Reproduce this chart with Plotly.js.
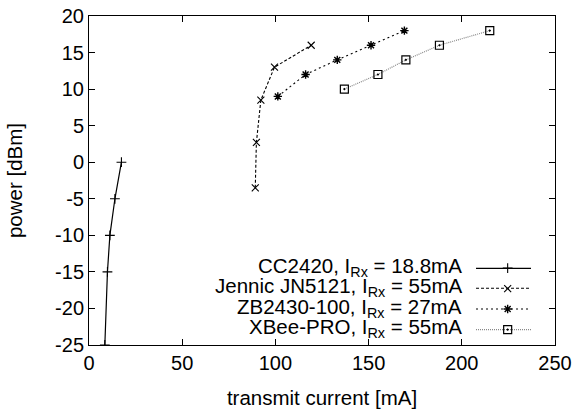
<!DOCTYPE html>
<html>
<head>
<meta charset="utf-8">
<script src="https://cdn.plot.ly/plotly-3.0.1.min.js"></script>
<style>html,body{margin:0;padding:0;background:#fff;}#chart{width:576px;height:412px;}</style>
</head>
<body>
<div id="chart"></div>
<script>
// CC2420
const cc2420Current = [8.5, 9.9, 11.2, 13.9, 17.4];
const cc2420Power   = [-25, -15, -10, -5, 0];
// Jennic JN5121
const jennicCurrent = [89.2, 89.8, 92.2, 99.5, 119.2];
const jennicPower   = [-3.5, 2.7, 8.5, 13, 16];
// ZB2430-100
const zbCurrent = [101.3, 116.2, 133.2, 151.3, 169.2];
const zbPower   = [9, 12, 14, 16, 18];
// XBee-PRO
const xbeeCurrent = [137, 155, 170, 188, 215];
const xbeePower   = [10, 12, 14, 16, 18];

const seriesLabels = [
  'CC2420, I<sub>Rx</sub> = 18.8mA',
  'Jennic JN5121, I<sub>Rx</sub> = 55mA',
  'ZB2430-100, I<sub>Rx</sub> = 27mA',
  'XBee-PRO, I<sub>Rx</sub> = 55mA'
];
const xTicks = [0, 50, 100, 150, 200, 250];
const yTicks = [-25, -20, -15, -10, -5, 0, 5, 10, 15, 20];

const FONT = 'Liberation Sans, Arial, Helvetica, sans-serif';

const series = [
  {x: cc2420Current, y: cc2420Power, line: {color: '#000', width: 1.2},
   marker: {symbol: 'cross-thin', size: 7, color: '#000', line: {color: '#000', width: 1.1}}},
  {x: jennicCurrent, y: jennicPower, line: {color: '#000', width: 1.1, dash: '3px,2px'},
   marker: {symbol: 'x-thin', size: 7, color: '#000', line: {color: '#000', width: 1.1}}},
  {x: zbCurrent, y: zbPower, line: {color: '#000', width: 1.1, dash: '2px,3px'},
   marker: {symbol: 'asterisk-open', size: 7, color: '#000', line: {color: '#000', width: 1.4}}},
  {x: xbeeCurrent, y: xbeePower, line: {color: '#888', width: 1.2, dash: '1px,1px'},
   marker: {symbol: 'square-open-dot', size: 8, color: '#000', line: {color: '#000', width: 1.2}}}
];

const traces = [];
series.forEach((s, i) => {
  traces.push({x: s.x, y: s.y, name: seriesLabels[i], mode: 'lines', line: s.line,
    showlegend: false, hoverinfo: 'skip'});
});
series.forEach((s, i) => {
  // legend entry shows the marker only; its label is drawn by an annotation
  traces.push({x: s.x, y: s.y, name: ' ', legendgroup: 'g' + i, mode: 'markers', marker: s.marker,
    showlegend: true});
});

const rowY = [0.2331, 0.1723, 0.1094, 0.0465];
const annotations = seriesLabels.map((t, i) => ({
  text: t, xref: 'paper', yref: 'paper', x: 0.805, y: rowY[i] + 0.004,
  xanchor: 'right', yanchor: 'middle', showarrow: false,
  font: {family: FONT, size: 20.5, color: '#000'}
}));

// legend sample lines (decoration)
const shapes = series.map((s, i) => ({
  type: 'line', xref: 'paper', yref: 'paper', x0: 0.8305, x1: 0.9485, y0: rowY[i], y1: rowY[i],
  line: {color: s.line.color, width: s.line.width, dash: s.line.dash || 'solid'}, layer: 'below'
}));

const axisCommon = {
  showgrid: false, zeroline: false, showline: true, linecolor: '#000', linewidth: 1,
  mirror: 'ticks', ticks: 'inside', ticklen: 6, tickcolor: '#000', tickwidth: 1,
  tickfont: {family: FONT, size: 20, color: '#000'}
};

const layout = {
  width: 576, height: 412,
  margin: {l: 89, r: 21, t: 16, b: 67, autoexpand: false},
  paper_bgcolor: '#fff', plot_bgcolor: '#fff',
  font: {family: FONT, size: 20, color: '#000'},
  showlegend: true,
  legend: {x: 0.8555, y: 0.278, xanchor: 'left', yanchor: 'top', bgcolor: 'rgba(0,0,0,0)',
    traceorder: 'grouped', tracegroupgap: 1.5,
    font: {family: FONT, size: 10, color: 'rgba(0,0,0,0)'}, itemwidth: 30},
  xaxis: Object.assign({}, axisCommon, {
    range: [0, 250], tickvals: xTicks, ticktext: xTicks.map(String), automargin: false,
    title: {text: 'transmit current [mA]', font: {family: FONT, size: 20.5, color: '#000'}, standoff: 17}
  }),
  yaxis: Object.assign({}, axisCommon, {
    range: [-25, 20], tickvals: yTicks, ticktext: yTicks.map(String), automargin: false,
    title: {text: 'power [dBm]', font: {family: FONT, size: 20.5, color: '#000'}, standoff: 26}
  }),
  annotations: annotations,
  shapes: shapes
};

Plotly.newPlot('chart', traces, layout, {displayModeBar: false, staticPlot: true});
</script>
</body>
</html>
